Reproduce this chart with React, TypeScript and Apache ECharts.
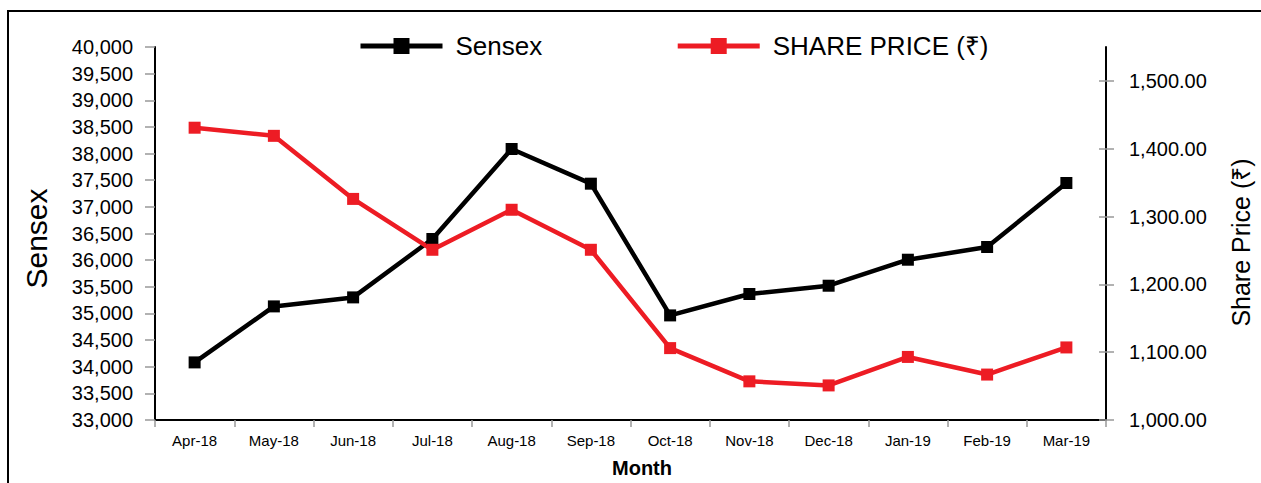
import React, { useEffect, useRef } from "react";
import * as echarts from "echarts";

const months = ["Apr-18", "May-18", "Jun-18", "Jul-18", "Aug-18", "Sep-18", "Oct-18", "Nov-18", "Dec-18", "Jan-19", "Feb-19", "Mar-19"];
const sensex = [34081, 35132, 35301, 36397, 38086, 37435, 34963, 35365, 35520, 36008, 36247, 37448];
const sharePrice = [1431, 1419, 1326, 1251, 1310, 1251, 1106, 1057, 1051, 1093, 1067, 1107];
const priceTicks = [1000, 1100, 1200, 1300, 1400, 1500];

const FONT = "'Liberation Sans', Arial, Helvetica, sans-serif";

export default function App() {
  const ref = useRef<HTMLDivElement>(null);
  useEffect(() => {
    if (!ref.current) return;
    const chart = echarts.init(ref.current, null, { renderer: "svg" });
    chart.setOption({
      animation: false,
      textStyle: { fontFamily: FONT, color: "#000" },
      legend: {
        left: 358,
        top: 33,
        padding: 0,
        itemWidth: 82,
        itemHeight: 20,
        itemGap: 133,
        lineStyle: { width: 5 },
        textStyle: { fontSize: 26, color: "#000", fontFamily: FONT, padding: [0, 0, 0, 8] },
        data: ["Sensex", "SHARE PRICE (₹)"],
      },
      grid: { left: 155, right: 154, top: 47, bottom: 63, containLabel: false },
      xAxis: {
        type: "category",
        data: months,
        boundaryGap: true,
        name: "Month",
        nameLocation: "middle",
        nameGap: 38,
        nameTextStyle: { fontSize: 20, fontWeight: "bold", color: "#000", fontFamily: FONT, padding: [0, 0, 0, 23] },
        axisLine: { lineStyle: { color: "#000", width: 2 } },
        axisTick: { show: true, length: 7, lineStyle: { color: "#999", width: 1.5 } },
        axisLabel: { interval: 0, fontSize: 15, margin: 13, color: "#000", fontFamily: FONT },
        splitLine: { show: false },
      },
      yAxis: [
        {
          type: "value",
          min: 33000,
          max: 40000,
          interval: 500,
          position: "left",
          name: "Sensex",
          nameLocation: "middle",
          nameGap: 104,
          nameTextStyle: { fontSize: 30, color: "#000", fontFamily: FONT, padding: [0, 10, 0, 0] },
          axisLine: { show: true, lineStyle: { color: "#000", width: 2 } },
          axisTick: { show: true, length: 10, lineStyle: { color: "#999", width: 1.5 } },
          axisLabel: {
            fontSize: 20,
            margin: 22,
            color: "#000",
            fontFamily: FONT,
            formatter: (v: number) => v.toLocaleString("en-US"),
          },
          splitLine: { show: false },
        },
        {
          type: "value",
          min: 1000,
          max: 1550,
          position: "right",
          name: "Share Price (₹)",
          nameLocation: "middle",
          nameGap: 122,
          nameTextStyle: { fontSize: 25, color: "#000", fontFamily: FONT, padding: [0, 18, 0, 0] },
          axisLine: { show: true, lineStyle: { color: "#000", width: 2 } },
          axisTick: { show: true, length: 8, customValues: priceTicks, lineStyle: { color: "#999", width: 1.5 } },
          axisLabel: {
            fontSize: 20,
            margin: 23,
            color: "#000",
            fontFamily: FONT,
            customValues: priceTicks,
            formatter: (v: number) => v.toLocaleString("en-US", { minimumFractionDigits: 2, maximumFractionDigits: 2 }),
          },
          splitLine: { show: false },
        },
        {
          type: "value",
          min: 1000,
          max: 1550,
          position: "right",
          axisLine: { show: false },
          axisTick: { show: true, inside: true, length: 7, customValues: priceTicks, lineStyle: { color: "#999", width: 1.5 } },
          axisLabel: { show: false },
          splitLine: { show: false },
        },
      ],
      series: [
        {
          name: "Sensex",
          type: "line",
          yAxisIndex: 0,
          data: sensex,
          symbol: "rect",
          symbolSize: 12,
          color: "#000",
          lineStyle: { color: "#000", width: 4.5 },
          itemStyle: { color: "#000" },
        },
        {
          name: "SHARE PRICE (₹)",
          type: "line",
          yAxisIndex: 1,
          data: sharePrice,
          symbol: "rect",
          symbolSize: 12,
          color: "#ED1C24",
          lineStyle: { color: "#ED1C24", width: 4.5 },
          itemStyle: { color: "#ED1C24" },
        },
      ],
    });
    return () => chart.dispose();
  }, []);
  return (
    <div style={{ position: "absolute", left: 0, top: 0, width: 1261, height: 483, overflow: "hidden", background: "#fff" }}>
      <div
        style={{
          position: "absolute",
          left: 7,
          top: 10,
          width: 1254,
          height: 473,
          boxSizing: "border-box",
          borderTop: "2px solid #000",
          borderLeft: "2px solid #000",
          pointerEvents: "none",
        }}
      />
      <div ref={ref} style={{ position: "absolute", left: 0, top: 0, width: 1261, height: 483 }} />
    </div>
  );
}
